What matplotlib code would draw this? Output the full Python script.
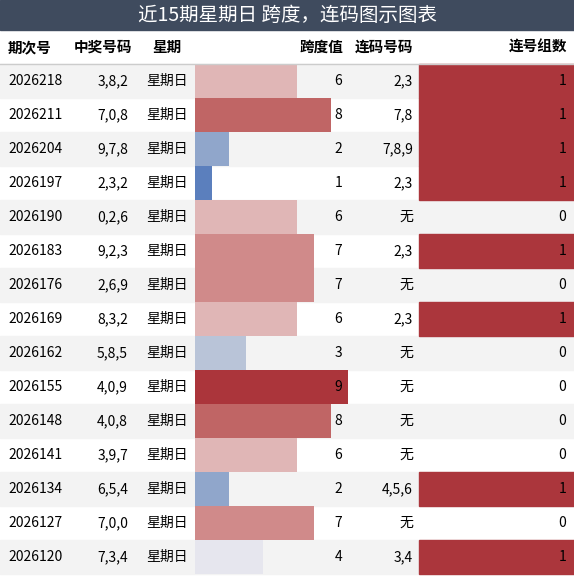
import matplotlib
matplotlib.use('Agg')
import matplotlib.pyplot as plt
from matplotlib.patches import Rectangle

plt.rcParams['font.family'] = ['Noto Sans CJK SC', 'DejaVu Sans']

periods = ['2026218', '2026211', '2026204', '2026197', '2026190', '2026183', '2026176', '2026169',
           '2026162', '2026155', '2026148', '2026141', '2026134', '2026127', '2026120']
numbers = ['3,8,2', '7,0,8', '9,7,8', '2,3,2', '0,2,6', '9,2,3', '2,6,9', '8,3,2',
           '5,8,5', '4,0,9', '4,0,8', '3,9,7', '6,5,4', '7,0,0', '7,3,4']
spans = [6, 8, 2, 1, 6, 7, 7, 6, 3, 9, 8, 6, 2, 7, 4]
runs = ['2,3', '7,8', '7,8,9', '2,3', '无', '2,3', '无', '2,3', '无', '无', '无', '无', '4,5,6', '无', '3,4']
groups = [1, 1, 1, 1, 0, 1, 0, 1, 0, 0, 0, 0, 1, 0, 1]

span_colors = {1: '#5b7fbd', 2: '#90a6cb', 3: '#b9c4d8', 4: '#e6e6ee', 5: '#f0d8d8',
               6: '#e0b6b6', 7: '#d08a8a', 8: '#c06565', 9: '#ab353b'}
red = '#ab363c'

W, H = 574, 576
fig = plt.figure(figsize=(W / 100, H / 100), dpi=100)
ax = fig.add_axes([0, 0, 1, 1])
ax.set_xlim(0, W)
ax.set_ylim(H, 0)
ax.axis('off')

# title bar
ax.add_patch(Rectangle((0, 0), W, 30, color='#3f4b5e'))
ax.text(W / 2, 15, '近15期星期日 跨度，连码图示图表', color='white', fontsize=14,
        ha='center', va='center')

# header
hy = 47
ax.text(8, hy, '期次号', fontsize=10.5, fontweight='bold', va='center')
ax.text(132, hy, '中奖号码', fontsize=10.5, fontweight='bold', va='center', ha='right')
ax.text(167, hy, '星期', fontsize=10.5, fontweight='bold', va='center', ha='center')
ax.text(343, hy, '跨度值', fontsize=10.5, fontweight='bold', va='center', ha='right')
ax.text(413, hy, '连码号码', fontsize=10.5, fontweight='bold', va='center', ha='right')
ax.text(567, hy, '连号组数', fontsize=10.5, fontweight='bold', va='center', ha='right')
ax.plot([0, W], [63.5, 63.5], color='#cccccc', lw=1)

top, rh = 64, 34
unit = 17
for i in range(len(periods)):
    y0 = top + i * rh
    yc = y0 + rh / 2
    if i % 2 == 0:
        ax.add_patch(Rectangle((0, y0), W, rh, color='#f3f3f3', zorder=0))
    ax.barh(yc, spans[i] * unit, left=195, height=rh, color=span_colors[spans[i]], zorder=1)
    if groups[i] > 0:
        ax.add_patch(Rectangle((419, y0), W - 419, rh, color=red, zorder=1))
    ax.text(8, yc, periods[i], fontsize=10, va='center', zorder=2)
    ax.text(128, yc, numbers[i], fontsize=10, va='center', ha='right', zorder=2)
    ax.text(167, yc, '星期日', fontsize=10, va='center', ha='center', zorder=2)
    ax.text(342, yc, str(spans[i]), fontsize=10, va='center', ha='right', zorder=2)
    ax.text(413, yc, runs[i], fontsize=10, va='center', ha='right', zorder=2)
    ax.text(566, yc, str(groups[i]), fontsize=10, va='center', ha='right', zorder=2)

fig.savefig('out.png', dpi=100)
